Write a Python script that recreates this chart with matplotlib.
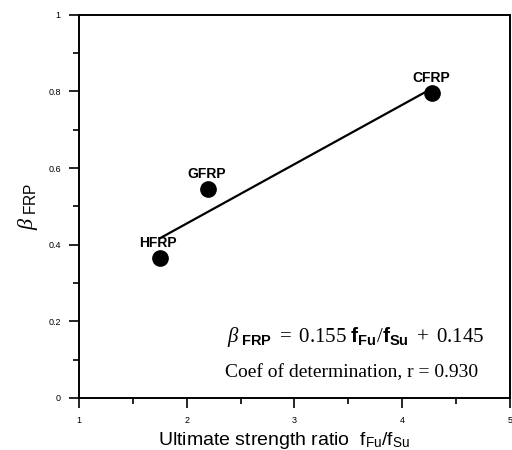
import numpy as np
from matplotlib import pyplot as plt
from matplotlib.ticker import MultipleLocator

plt.rcParams['font.family'] = ['Liberation Sans', 'DejaVu Sans']
plt.rcParams['mathtext.fontset'] = 'custom'
plt.rcParams['mathtext.rm'] = 'Liberation Serif'
plt.rcParams['mathtext.it'] = 'Liberation Serif:italic'
plt.rcParams['mathtext.bf'] = 'Liberation Sans:bold'
plt.rcParams['mathtext.sf'] = 'Liberation Sans'

# data
materials = ["HFRP", "GFRP", "CFRP"]
strength_ratio = [1.75, 2.20, 4.28]
beta_frp = [0.365, 0.545, 0.795]
slope = 0.155
intercept = 0.145
r_value = 0.930
x_ticks = [1, 2, 3, 4, 5]
x_tick_labels = ["1", "2", "3", "4", "5"]
y_ticks = [0, 0.2, 0.4, 0.6, 0.8, 1]
y_tick_labels = ["0", "0.2", "0.4", "0.6", "0.8", "1"]

fig = plt.figure(figsize=(5.12, 4.5), dpi=100)
ax = fig.add_axes([0.154, 0.116, 0.842, 0.851])

# regression line over the data range
xf = np.array([min(strength_ratio), max(strength_ratio)])
ax.plot(xf, slope * xf + intercept, color='black', lw=1.6, zorder=2)
ax.plot(strength_ratio, beta_frp, 'o', color='black', ms=11, zorder=3)

for name, x, y in zip(materials, strength_ratio, beta_frp):
    ax.annotate(name, (x, y), xytext=(-1, 11), textcoords='offset points',
                ha='center', va='center', fontsize=10, fontweight='bold')

ax.set_xlim(1, 5)
ax.set_ylim(0, 1)
ax.set_xticks(x_ticks)
ax.set_xticklabels(x_tick_labels)
ax.set_yticks(y_ticks)
ax.set_yticklabels(y_tick_labels)
ax.xaxis.set_minor_locator(MultipleLocator(0.5))
ax.yaxis.set_minor_locator(MultipleLocator(0.1))
ax.tick_params(which='major', direction='out', length=7, width=1.2, labelsize=6.5, pad=6)
ax.tick_params(which='minor', direction='out', length=4, width=1.2)
for s in ax.spines.values():
    s.set_linewidth(1.4)

ax.set_xlabel(r'Ultimate strength ratio  f$_{\mathsf{Fu}}$/f$_{\mathsf{Su}}$', fontsize=14, labelpad=0)
ax.xaxis.set_label_coords(0.477, -0.085)
ax.set_ylabel(r'$\mathit{\beta}_{\ \mathsf{FRP}}$', fontsize=16, labelpad=6)

ax.text(0.343, 0.159,
        r'$\mathit{\beta}_{\ \mathbf{FRP}}\ =\ 0.155\ \mathbf{f}_{\mathbf{Fu}}/\mathbf{f}_{\mathbf{Su}}\ +\ 0.145$',
        transform=ax.transAxes, fontsize=15, ha='left', va='center')
ax.text(0.34, 0.065, 'Coef of determination, r = %.3f' % r_value,
        transform=ax.transAxes, fontsize=14, ha='left', va='center',
        family='Liberation Serif')

plt.savefig('out.png', dpi=100)
